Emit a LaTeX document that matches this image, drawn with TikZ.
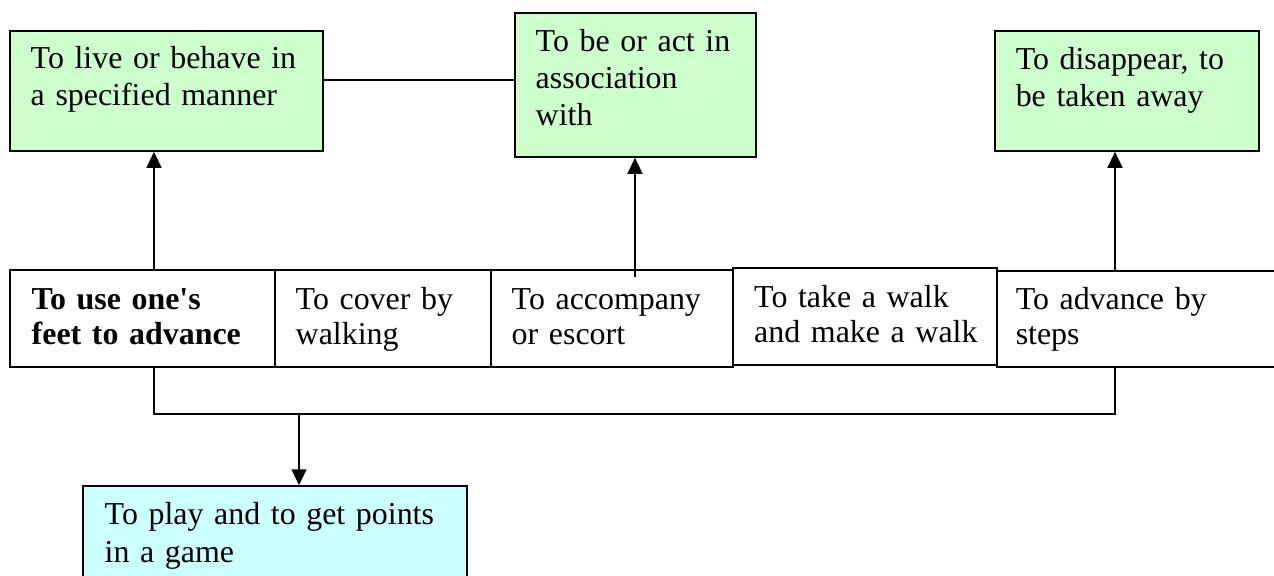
\documentclass[tikz,border=0pt]{standalone}
\usepackage{fontspec}
\setmainfont{Liberation Serif}
\usetikzlibrary{arrows.meta,fit,calc}
\definecolor{leafgreen}{HTML}{CCFFCC}
\definecolor{paleblue}{HTML}{CCFFFF}
\begin{document}
\begin{tikzpicture}[x=0.376pt,y=-0.376pt,
  box/.style={draw, line width=0.6pt, inner sep=0pt},
  sense/.style={box, fill=leafgreen},
  cell/.style={box, fill=white},
  game/.style={box, fill=paleblue},
  txt/.style={anchor=base west, inner sep=0pt, text width=300pt, align=left,
              font=\fontsize{12pt}{13.9pt}\selectfont},
  rowtxt/.style={txt, font=\fontsize{12pt}{13.2pt}\selectfont},
  link/.style={line width=0.6pt},
  arr/.style={link, -{Triangle[length=6pt,width=5.6pt]}}
]
\useasboundingbox (0,0) rectangle (1274,575);
\clip (0,0) rectangle (1274,575);

% upper senses
\node[sense, fit={(10,31) (323,151)}] (b1) {};
\node[sense, fit={(515,13) (756,157)}] (b2) {};
\node[sense, fit={(995,31) (1259,151)}] (b3) {};
\node[txt] (t1) at ($(b1.north west)+(21,38)$) {To live or behave in\\a specified manner};
\node[txt] (t2) at ($(b2.north west)+(21,39)$) {To be or act in\\association\\with};
\node[txt] (t3) at ($(b3.north west)+(21,39)$) {To disappear, to\\be taken away};

% row of core senses
\node[cell, fit={(10,270) (275,367)}] (c1) {};
\node[cell, fit={(275,270) (491,367)}] (c2) {};
\node[cell, fit={(491,270) (733,367)}] (c3) {};
\node[cell, fit={(997,271) (1300,367)}] (c5) {};
\node[cell, line width=1pt, fit={(733,268) (997,365)}] (c4) {};
\node[rowtxt, font=\bfseries\fontsize{12pt}{13.2pt}\selectfont] (s1) at ($(c1.north west)+(22,40)$) {To use one\textquotesingle s\\feet to advance};
\node[rowtxt] (s2) at ($(c2.north west)+(21,40)$) {To cover by\\walking};
\node[rowtxt] (s3) at ($(c3.north west)+(21,40)$) {To accompany\\or escort};
\node[rowtxt] (s4) at ($(c4.north west)+(22,41)$) {To take a walk\\and make a walk};
\node[rowtxt] (s5) at ($(c5.north west)+(19,39)$) {To advance by\\steps};

% lower sense
\node[game, fit={(83,486) (467,600)}] (g) {};
\node[txt, font=\fontsize{12pt}{14.3pt}\selectfont] (tg) at ($(g.north west)+(22,39)$) {To play and to get points\\in a game};

% connectors
\coordinate (a1) at (154,270);
\coordinate (a2) at (635,277);
\coordinate (a3) at (1115,271);
\coordinate (hy) at (0,80);
\coordinate (dn) at (299,414);

\draw[link] (b1.east |- hy) -- (b2.west |- hy);
\draw[arr] (a1) -- (a1 |- b1.south);
\draw[arr] (a2) -- (a2 |- b2.south);
\draw[arr] (a3) -- (a3 |- b3.south);
\draw[link] (c1.south -| a1) -- (a1 |- dn) -- (a3 |- dn) -- (c5.south -| a3);
\draw[arr] (dn) -- (dn |- g.north);
\end{tikzpicture}
\end{document}
